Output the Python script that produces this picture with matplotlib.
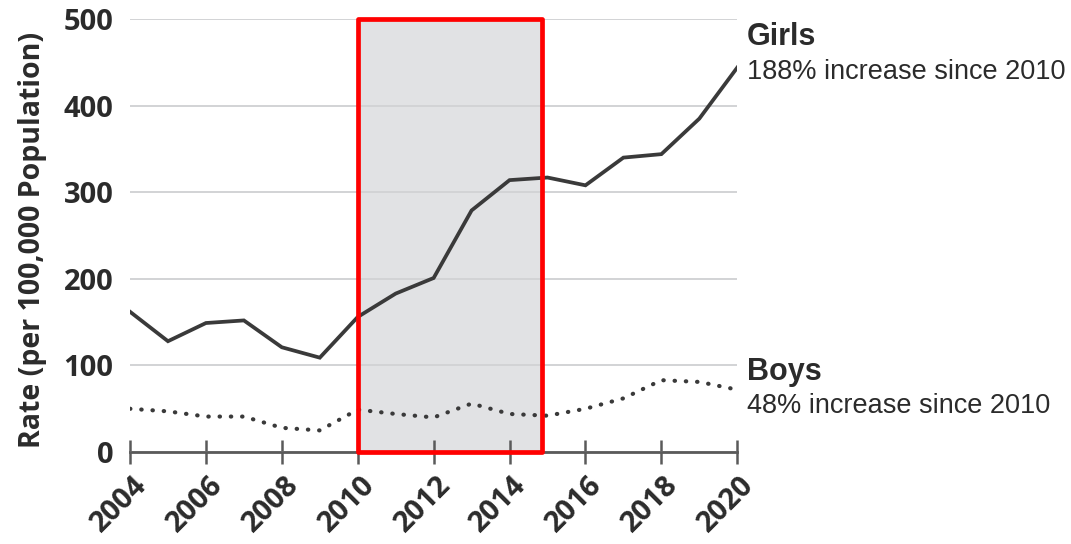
import numpy as np
import matplotlib
matplotlib.use("Agg")
import matplotlib.pyplot as plt
import matplotlib.transforms as mtransforms
from matplotlib.patches import Rectangle

# rates per 100,000 population, by year
years = list(range(2004, 2021))
girls = [162, 128, 149, 152, 121, 109, 156, 183, 201, 279, 314, 317, 308, 340, 344, 385, 444]
boys = [50, 47, 41, 41, 28, 25, 49, 44, 40, 56, 44, 42, 50, 62, 83, 81, 72]
year_ticks = list(range(2004, 2021, 2))
y_ticks = [0, 100, 200, 300, 400, 500]
highlight = (2010, 2014.85)

line_col = "#3a3a3a"
text_col = "#2b2b2b"
tick_font = "Open Sans"

fig = plt.figure(figsize=(10.71, 5.44), dpi=100)
ax = fig.add_axes([0.1214, 0.169, 0.567, 0.796])

ax.plot(years, girls, color=line_col, lw=2.7, solid_joinstyle="miter", zorder=3)
ax.plot(years, boys, color=line_col, lw=3.0, ls=(0, (0.1, 2.6)),
        dash_capstyle="round", zorder=3)

# shaded years + red outline
ax.axvspan(highlight[0], highlight[1], color="#e1e2e4", zorder=0.2, lw=0)
ax.add_patch(Rectangle((highlight[0], 0), highlight[1] - highlight[0], 500,
                       fill=False, edgecolor="#ff0000", lw=3.4, zorder=5,
                       clip_on=False, joinstyle="round"))

ax.set_xlim(2004, 2020)
ax.set_ylim(0, 500)
ax.set_xticks(year_ticks)
ax.set_yticks(y_ticks)
ax.set_axisbelow(True)
ax.yaxis.grid(True, color="#d2d3d5", lw=1.4)

for s in ["top", "right", "left"]:
    ax.spines[s].set_visible(False)
ax.spines["bottom"].set_color("#5a5a5a")
ax.spines["bottom"].set_linewidth(2.0)
ax.spines["bottom"].set_zorder(4)

ax.tick_params(axis="x", direction="inout", length=17, width=1.8, color="#5a5a5a",
               pad=5, labelsize=21, labelcolor=text_col)
ax.tick_params(axis="y", length=0, pad=12, labelsize=21, labelcolor=text_col)
for lab in ax.get_yticklabels():
    lab.set_fontfamily(tick_font)
    lab.set_fontweight("bold")
shift = mtransforms.ScaledTranslation(-11 / 100, 0, fig.dpi_scale_trans)
for lab in ax.get_xticklabels():
    lab.set_fontfamily(tick_font)
    lab.set_fontweight("bold")
    lab.set_rotation(45)
    lab.set_ha("center")
    lab.set_transform(lab.get_transform() + shift)

ax.set_ylabel("Rate (per 100,000 Population)", fontsize=20.5, fontweight="bold",
              family=tick_font, color=text_col, labelpad=6)
ax.yaxis.set_label_coords(-0.137, 0.49)

# series labels on the right
tx = 747 / 1071
fig.text(tx, 1 - 37 / 544, "Girls", fontsize=22, fontweight="bold",
         family="Liberation Sans", color=text_col, va="center")
fig.text(tx, 1 - 72 / 544, "188% increase since 2010", fontsize=19.5,
         family="Liberation Sans", color=text_col, va="center")
fig.text(tx, 1 - 372 / 544, "Boys", fontsize=22, fontweight="bold",
         family="Liberation Sans", color=text_col, va="center")
fig.text(tx, 1 - 406 / 544, "48% increase since 2010", fontsize=19.5,
         family="Liberation Sans", color=text_col, va="center")

fig.savefig("out.png", dpi=100)
